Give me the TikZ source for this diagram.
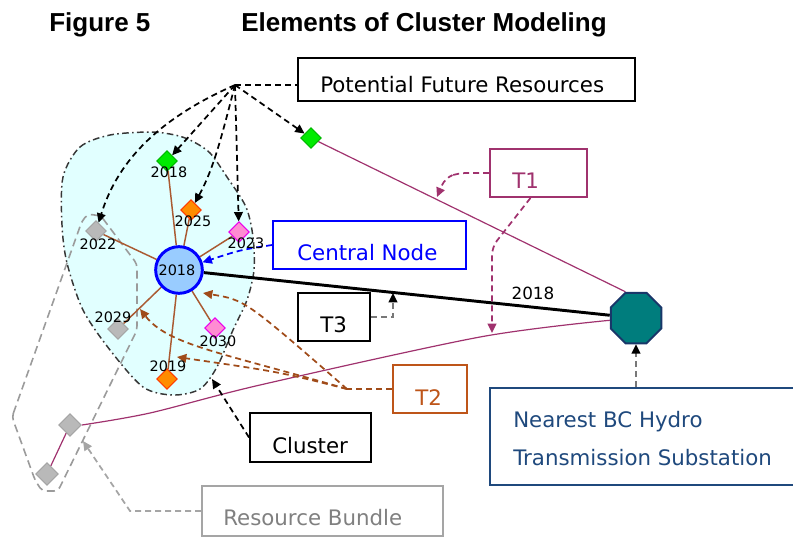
\documentclass[tikz,border=0pt]{standalone}
\usepackage{fontspec}
\setmainfont{DejaVu Sans}
\newfontfamily\titlefont{Liberation Sans}
\usetikzlibrary{shapes.geometric,arrows.meta,calc}
\pgfdeclarelayer{back}
\pgfdeclarelayer{mid}
\pgfsetlayers{back,mid,main}
\definecolor{cfill}{RGB}{225,255,255}
\definecolor{cline}{RGB}{55,55,55}
\definecolor{bgray}{RGB}{155,155,155}
\definecolor{purp}{RGB}{160,50,110}
\definecolor{spk}{RGB}{170,90,50}
\definecolor{ttwo}{RGB}{190,85,25}
\definecolor{ttwoarr}{RGB}{160,75,25}
\definecolor{navy}{RGB}{31,73,125}
\definecolor{navyline}{RGB}{25,55,105}
\definecolor{tealf}{RGB}{0,125,125}
\definecolor{cblue}{RGB}{0,0,255}
\definecolor{cfillb}{RGB}{153,204,255}
\definecolor{gfill}{RGB}{0,235,0}
\definecolor{gline}{RGB}{0,185,0}
\definecolor{ofill}{RGB}{255,140,0}
\definecolor{oline}{RGB}{255,60,0}
\definecolor{pfill}{RGB}{255,140,210}
\definecolor{pline}{RGB}{235,0,235}
\definecolor{dgfill}{RGB}{185,185,185}
\definecolor{dgline}{RGB}{165,165,165}
\definecolor{rbtext}{RGB}{128,128,128}
\definecolor{rbline}{RGB}{165,165,165}
\definecolor{tthree}{RGB}{120,120,120}
\tikzset{
  dmd/.style={diamond, minimum width=15.5pt, minimum height=15.5pt, inner sep=0pt, line width=0.8pt},
  gdm/.style={dmd, fill=gfill, draw=gline},
  odm/.style={dmd, fill=ofill, draw=oline},
  pdm/.style={dmd, fill=pfill, draw=pline},
  ydm/.style={dmd, fill=dgfill, draw=dgline},
  bdm/.style={dmd, minimum width=17pt, minimum height=17pt, fill=dgfill, draw=dgline},
  bxs/.style={rectangle, draw, line width=1.4pt, inner sep=0pt, fill=white},
  btxt/.style={inner sep=0pt, anchor=base west, font=\fontsize{16}{19}\selectfont},
  yrl/.style={inner sep=0pt, font=\fontsize{10.8}{12}\selectfont},
  arrowtip/.style={-{Triangle[length=7pt,width=6.5pt]}},
  fanln/.style={draw=black, line width=1.3pt, dash pattern=on 4.5pt off 3pt},
  grayln/.style={draw=tthree, line width=1.4pt, dash pattern=on 4.5pt off 3pt, -{Triangle[length=7pt,width=6.5pt,color=black]}},
  purpln/.style={draw=purp, line width=0.9pt},
  spokeln/.style={draw=spk, line width=1.1pt},
  tonedash/.style={draw=purp, line width=1.3pt, dash pattern=on 4.5pt off 3pt},
  ttwodash/.style={draw=ttwoarr, line width=1.3pt, dash pattern=on 4.5pt off 3pt},
  bluedash/.style={draw=cblue, line width=1.3pt, dash pattern=on 4.5pt off 3pt},
  rbdash/.style={draw=rbline, line width=1.3pt, dash pattern=on 4.5pt off 3pt},
  bundleln/.style={draw=bgray, line width=1.2pt, dash pattern=on 6pt off 3.5pt, rounded corners=3pt},
  clusterln/.style={draw=cline, fill=cfill, line width=1.1pt, dash pattern=on 5pt off 2.5pt on 1.2pt off 2.5pt}
}
\begin{document}
\begin{tikzpicture}[x=0.75pt,y=-0.75pt]
\useasboundingbox (0,0) rectangle (793,536);

% title
\node[inner sep=0pt, anchor=base west, font=\titlefont\bfseries\fontsize{19.5}{22}\selectfont] (fig) at (49,31) {Figure 5};
\node[inner sep=0pt, anchor=base west, font=\titlefont\bfseries\fontsize{19.5}{22}\selectfont] (ttl) at (241,31) {Elements of Cluster Modeling};

% cluster area and bundle outline
\begin{pgfonlayer}{back}
\path[clusterln] plot[smooth cycle] coordinates {(63,177) (80,147) (110,135) (150,132) (175,135) (192,141) (210,153) (227,177) (246,207) (253,237) (254,270) (247,300) (233,330) (217,367) (200,389) (173,395) (143,387) (110,350) (83,310) (67,263) (62,225)};
\draw[bundleln] (12,417) -- (82,221) -- (88,214) -- (101,216) -- (137,264) -- (137,330) -- (58,491) -- (42,491) -- (35,480) -- cycle;
\end{pgfonlayer}

% main nodes
\node[circle, fill=cfillb, draw=cblue, line width=2.2pt, minimum size=35pt, inner sep=0pt] (cn) at (179,270) {};
\node[yrl] (cnl) at (177,270) {2018};
\node[regular polygon, regular polygon sides=8, minimum size=41pt, inner sep=0pt, fill=tealf, draw=navyline, line width=1.5pt] (sub) at (636,318) {};

\node[gdm] (gout) at (311,138) {};
\node[gdm] (d2018) at (167,161) {};
\node[odm] (d2025) at (191,210) {};
\node[pdm] (d2023) at (239,232) {};
\node[ydm] (d2022) at (96,231) {};
\node[ydm] (d2029) at (118,329) {};
\node[pdm] (d2030) at (215,328) {};
\node[odm] (d2019) at (167,379) {};
\node[bdm] (bd1) at (70,425) {};
\node[bdm] (bd2) at (47,474) {};

\node[yrl] (l2018) at (169,172) {2018};
\node[yrl] (l2025) at (193,221) {2025};
\node[yrl] (l2023) at (246,243) {2023};
\node[yrl] (l2022) at (98,244) {2022};
\node[yrl] (l2029) at (113,317) {2029};
\node[yrl] (l2030) at (218,341) {2030};
\node[yrl] (l2019) at (168,366) {2019};
\node[inner sep=0pt, font=\fontsize{12.6}{14}\selectfont] (lline) at (533,293) {2018};

% boxes
\node[bxs, minimum width=252.75pt, minimum height=32.25pt] (pfr) at (466.5,79.5) {};
\node[btxt] (pfrt) at (320,92) {Potential Future Resources};
\node[bxs, draw=purp, minimum width=72.75pt, minimum height=36pt] (t1) at (538.5,173) {};
\node[btxt, text=purp] (t1t) at (512,188) {T1};
\node[bxs, draw=cblue, minimum width=144.75pt, minimum height=36pt] (cnbox) at (369.5,245) {};
\node[btxt, text=cblue] (cnt) at (297,260) {Central Node};
\node[bxs, minimum width=54pt, minimum height=36pt] (t3) at (334,317) {};
\node[btxt] (t3t) at (320,332) {T3};
\node[bxs, draw=ttwo, minimum width=55.5pt, minimum height=36pt] (t2) at (430,389) {};
\node[btxt, text=ttwo] (t2t) at (415,405) {T2};
\node[bxs, minimum width=90.75pt, minimum height=36.75pt] (clus) at (310.5,437.5) {};
\node[btxt] (clust) at (272,453) {Cluster};
\node[bxs, draw=rbline, minimum width=180.75pt, minimum height=37pt] (rb) at (322.5,511) {};
\node[btxt, text=rbtext] (rbt) at (223,525) {Resource Bundle};
\node[bxs, draw=navy, line width=1.2pt, minimum width=228.75pt, minimum height=72.75pt] (nb) at (642.5,436.5) {};
\node[btxt, text=navy] (nbt1) at (513,427) {Nearest BC Hydro};
\node[btxt, text=navy] (nbt2) at (513,465) {Transmission Substation};

% free coordinates
\coordinate (hub) at (235,85);
\coordinate (t1a) at (437,197);
\coordinate (t1b) at (492,333);
\coordinate (t3tip) at (393,293);
\coordinate (t2c) at (347,389);
\coordinate (tipA) at (203,293);
\coordinate (tipB) at (140,309);
\coordinate (tipC) at (177,357);
\coordinate (tipCl) at (212,379);
\coordinate (tipRB) at (83,441);

\begin{pgfonlayer}{mid}
% transmission lines
\draw[purpln] (gout) -- (sub.112.5);
\draw[purpln] plot[smooth] coordinates {(bd1.east) (150,413) (260,385) (480,337) (sub.185)};
\draw[purpln] (bd2) -- (bd1);
\draw[line width=2.2pt] (cn) -- (sub);
% spokes
\foreach \d in {d2018,d2025,d2023,d2022,d2029,d2030,d2019}
  \draw[spokeln] (cn) -- (\d);
% potential future resources fan
\draw[fanln] (hub) -- (hub -| pfr.west);
\draw[fanln, arrowtip] (hub) -- (gout);
\draw[fanln, arrowtip] (hub) -- (d2018);
\draw[fanln, arrowtip] (hub) .. controls (222,135) and (214,168) .. (d2025);
\draw[fanln, arrowtip] (hub) -- (d2023);
\draw[fanln, arrowtip] (hub) .. controls (160,118) and (118,160) .. (d2022);
% central node
\draw[bluedash, arrowtip] (cnbox.west) .. controls (240,250) .. (cn);
% T1
\draw[tonedash, arrowtip, rounded corners=6pt] (t1.west) -- (458,173) -- (445,178) -- (t1a);
\draw[tonedash, arrowtip, rounded corners=6pt] ([xshift=-6pt]t1.south) -- (492,247) -- (t1b);
% T3
\draw[grayln] (t3.east) -- (393,317) -- (t3tip);
% T2
\draw[ttwodash] (t2.west) -- (t2c);
\draw[ttwodash, arrowtip] (t2c) .. controls (245,300) .. (tipA);
\draw[ttwodash, arrowtip] (t2c) .. controls (220,352) and (168,345) .. (tipB);
\draw[ttwodash, arrowtip] (t2c) .. controls (280,372) .. (tipC);
% cluster
\draw[fanln, arrowtip] (clus.west) -- (tipCl);
% resource bundle
\draw[rbdash, -{Triangle[length=7pt,width=6.5pt,color=rbline]}] (rb.west) -- (130,511) -- (tipRB);
% substation
\draw[grayln] (sub.south |- nb.north) -- (sub.south);
\end{pgfonlayer}
\end{tikzpicture}
\end{document}
